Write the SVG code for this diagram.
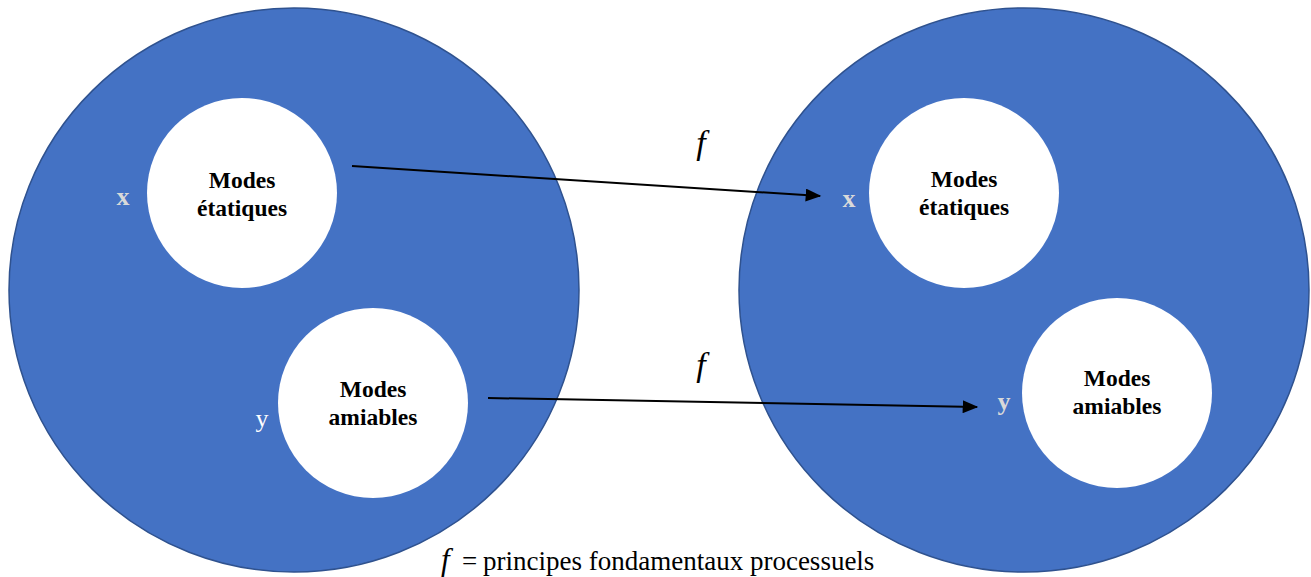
<svg xmlns="http://www.w3.org/2000/svg" width="1311" height="577" viewBox="0 0 1311 577">
<style>
.big{fill:#4472C4;stroke:#2F528F;stroke-width:1.5}
.small{fill:#ffffff}
text{font-family:'Liberation Serif','Times New Roman',Times,serif}
.lbl{font-weight:bold;font-size:23.5px;fill:#000;text-anchor:middle}
.var{font-size:26px;text-anchor:middle}
.fn{font-style:italic;font-size:34px;text-anchor:middle;fill:#000}
.cap{font-size:27px;fill:#000}
.conn{stroke:#000;stroke-width:2;fill:none}
</style>
<defs>
<marker id="ah2" viewBox="0 0 12 10" refX="11" refY="5" markerWidth="16" markerHeight="13" markerUnits="userSpaceOnUse" orient="auto">
<path d="M0,0 L12,5 L0,10 z" fill="#000"/>
</marker>
</defs>
<g id="left-set">
<ellipse class="big" cx="294" cy="290" rx="285" ry="282"/>
</g>
<g id="right-set">
<ellipse class="big" cx="1024" cy="290" rx="285" ry="282"/>
</g>
<g id="left-etatiques">
<circle class="small" cx="242" cy="193" r="95"/>
<text class="lbl" x="242" y="188">Modes</text>
<text class="lbl" x="242" y="216">étatiques</text>
</g>
<g id="left-amiables">
<circle class="small" cx="373" cy="403" r="95"/>
<text class="lbl" x="373" y="397">Modes</text>
<text class="lbl" x="373" y="425">amiables</text>
</g>
<g id="right-etatiques">
<circle class="small" cx="964" cy="193" r="95"/>
<text class="lbl" x="964" y="187">Modes</text>
<text class="lbl" x="964" y="215">étatiques</text>
</g>
<g id="right-amiables">
<circle class="small" cx="1117" cy="393" r="95"/>
<text class="lbl" x="1117" y="386">Modes</text>
<text class="lbl" x="1117" y="414">amiables</text>
</g>
<g id="labels">
<text class="var" x="123" y="205" style="font-weight:bold;fill:#D9D9D9">x</text>
<text class="var" x="262" y="427" style="fill:#ffffff">y</text>
<text class="var" x="849" y="207" style="font-weight:bold;fill:#D9D9D9">x</text>
<text class="var" x="1004" y="410" style="font-weight:bold;fill:#D9D9D9">y</text>
<text class="fn" x="701" y="154">f</text>
<text class="fn" x="701" y="376">f</text>
<text class="cap" y="570"><tspan x="441" font-style="italic" font-size="31">f</tspan><tspan x="462">=</tspan><tspan x="483">principes fondamentaux processuels</tspan></text>
</g>
<g id="connectors">
<line class="conn" x1="352" y1="166" x2="820" y2="196" marker-end="url(#ah2)"/>
<line class="conn" x1="488" y1="398" x2="977" y2="407" marker-end="url(#ah2)"/>
</g>
</svg>
